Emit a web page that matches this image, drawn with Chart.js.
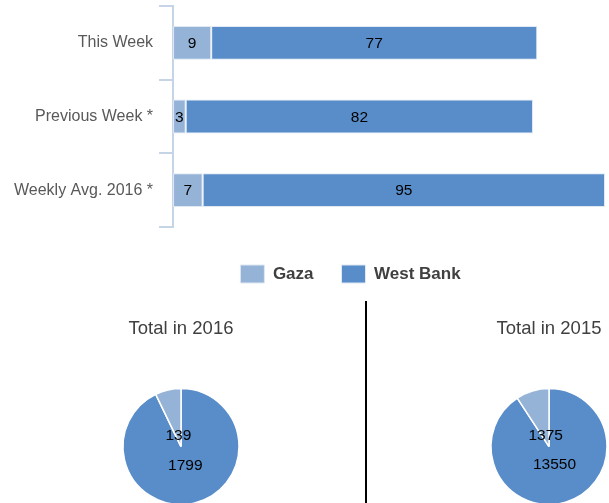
<!DOCTYPE html>
<html>
<head>
<meta charset="utf-8">
<script src="https://cdn.jsdelivr.net/npm/chart.js@4.4.1/dist/chart.umd.min.js"></script>
<style>
  html, body { margin: 0; padding: 0; width: 609px; height: 503px; overflow: hidden; background: #fff; }
  .box { position: absolute; }
  #divider { position: absolute; left: 365px; top: 301px; width: 2px; height: 202px; background: #000; }
</style>
</head>
<body>
<div class="box" style="left:0;top:0;width:609px;height:300px;"><canvas id="bar"></canvas></div>
<div class="box" style="left:66px;top:300px;width:230px;height:243px;"><canvas id="pie2016"></canvas></div>
<div class="box" style="left:434px;top:300px;width:230px;height:243px;"><canvas id="pie2015"></canvas></div>
<div id="divider"></div>
<script>
const categories = ['This Week', 'Previous Week *', 'Weekly Avg. 2016 *'];
const gazaValues = [9, 3, 7];
const westBankValues = [77, 82, 95];
const seriesNames = ['Gaza', 'West Bank'];
const pieLabels = ['West Bank', 'Gaza'];
const total2016 = [1799, 139];
const total2015 = [13550, 1375];
const pieTitles = ['Total in 2016', 'Total in 2015'];

const GAZA = '#95b3d7';
const WB = '#588dc9';
const FONT = "'Liberation Sans', Arial, sans-serif";

const barLabels = {
  id: 'barLabels',
  afterDatasetsDraw(chart) {
    const ctx = chart.ctx;
    ctx.save();
    ctx.font = '15.5px ' + FONT;
    ctx.fillStyle = '#000';
    ctx.textAlign = 'center';
    ctx.textBaseline = 'middle';
    chart.data.datasets.forEach((ds, di) => {
      chart.getDatasetMeta(di).data.forEach((el, i) => {
        const cx = (el.x + el.base) / 2;
        ctx.fillText(String(ds.data[i]), cx, el.y + 1);
      });
    });
    ctx.restore();
  }
};

const legendShift = {
  id: 'legendShift',
  afterLayout(chart) {
    if (chart.legend) {
      chart.legend.left += 44;
      chart.legend.right += 44;
    }
  }
};

new Chart(document.getElementById('bar'), {
  type: 'bar',
  data: {
    labels: categories,
    datasets: [
      { label: seriesNames[0], data: gazaValues, backgroundColor: GAZA, borderColor: '#dfe8f3', borderWidth: 1, borderSkipped: false },
      { label: seriesNames[1], data: westBankValues, backgroundColor: WB, borderColor: '#dfe8f3', borderWidth: 1, borderSkipped: false }
    ]
  },
  options: {
    indexAxis: 'y',
    responsive: true,
    maintainAspectRatio: false,
    animation: false,
    layout: { padding: { top: 6, right: 4, left: 8, bottom: 7 } },
    datasets: { bar: { categoryPercentage: 0.46, barPercentage: 1 } },
    scales: {
      x: {
        stacked: true, display: true, min: 0, max: 102,
        grid: { display: false }, border: { display: false }, ticks: { display: false },
        afterFit(s) { s.height = 10; s.paddingLeft = 0; s.paddingRight = 0; }
      },
      y: {
        stacked: true,
        offset: true,
        border: { color: '#c6d4e8', width: 2 },
        grid: { drawOnChartArea: false, drawTicks: true, tickLength: 14, color: '#c6d4e8', lineWidth: 2, offset: true },
        ticks: { color: '#595959', font: { family: FONT, size: 16 }, padding: 6 },
        afterFit(s) { s.paddingTop = 0; s.paddingBottom = 0; }
      }
    },
    plugins: {
      legend: {
        position: 'bottom',
        labels: {
          boxWidth: 24, boxHeight: 18, padding: 28, color: '#404040',
          font: { family: FONT, size: 17, weight: 'bold' }
        }
      },
      tooltip: { enabled: false }
    }
  },
  plugins: [barLabels, legendShift]
});

const pieLabelPlugin = {
  id: 'pieLabelPlugin',
  afterDatasetsDraw(chart) {
    const ctx = chart.ctx;
    const ds = chart.data.datasets[0];
    const fracs = [0.33, 0.2];
    ctx.save();
    ctx.font = '15.5px ' + FONT;
    ctx.fillStyle = '#000';
    ctx.textAlign = 'center';
    ctx.textBaseline = 'middle';
    chart.getDatasetMeta(0).data.forEach((arc, i) => {
      const mid = (arc.startAngle + arc.endAngle) / 2;
      const r = arc.outerRadius * fracs[i];
      ctx.fillText(String(ds.data[i]), arc.x + Math.cos(mid) * r, arc.y + Math.sin(mid) * r);
    });
    ctx.restore();
  }
};

function makePie(id, values, title) {
  new Chart(document.getElementById(id), {
    type: 'pie',
    data: {
      labels: pieLabels,
      datasets: [{ data: values, backgroundColor: [WB, GAZA], borderColor: '#fff', borderWidth: 1.5, radius: 58 }]
    },
    options: {
      responsive: true,
      maintainAspectRatio: false,
      animation: false,
      layout: { padding: 0 },
      plugins: {
        legend: { display: false },
        tooltip: { enabled: false },
        title: {
          display: true, text: title, color: '#404040',
          font: { family: FONT, size: 18.5, weight: 'normal', lineHeight: 1.2 },
          padding: { top: 18, bottom: 10 }
        }
      }
    },
    plugins: [pieLabelPlugin]
  });
}
makePie('pie2016', total2016, pieTitles[0]);
makePie('pie2015', total2015, pieTitles[1]);
</script>
</body>
</html>
